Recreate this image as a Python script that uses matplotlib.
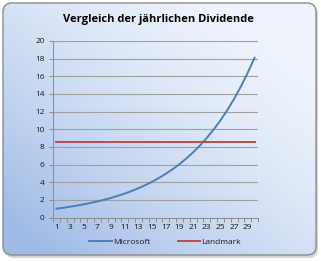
import numpy as np
import matplotlib.pyplot as plt
from matplotlib.patches import FancyBboxPatch
from matplotlib.lines import Line2D

title = 'Vergleich der jährlichen Dividende'
years = list(range(1, 31))
microsoft = [1.0, 1.1, 1.22, 1.35, 1.49, 1.65, 1.82, 2.01, 2.22, 2.46,
             2.72, 3.0, 3.32, 3.67, 4.05, 4.48, 4.95, 5.47, 6.04, 6.68,
             7.38, 8.15, 9.01, 9.96, 11.0, 12.16, 13.44, 14.85, 16.41, 18.1]
landmark = [8.5] * 30
yticks = list(range(0, 21, 2))
xlabels = list(range(1, 30, 2))

fig = plt.figure(figsize=(3.21, 2.61), dpi=100)
fig.patch.set_facecolor('white')

# background card with diagonal gradient
bg = fig.add_axes([0, 0, 1, 1])
bg.set_xlim(0, 321)
bg.set_ylim(261, 0)
bg.axis('off')
shadow = FancyBboxPatch((5, 5), 313, 253, boxstyle='round,pad=0,rounding_size=9',
                        fc='#b8b8b8', ec='none', alpha=0.6)
bg.add_patch(shadow)
card = FancyBboxPatch((3, 3), 313, 252, boxstyle='round,pad=0,rounding_size=9',
                      fc='none', ec='#8c8c8c', lw=1.0, zorder=3)
bg.add_patch(card)
gx, gy = np.meshgrid(np.linspace(0, 1, 200), np.linspace(0, 1, 200))
t = np.clip(0.6 * (1 - gx) + 0.6 * gy - 0.12, 0, 1) ** 1.5
c0 = np.array([0.94, 0.96, 0.99])
c1 = np.array([0.62, 0.73, 0.90])
img = c0[None, None, :] * (1 - t[..., None]) + c1[None, None, :] * t[..., None]
im = bg.imshow(img, extent=(3, 316, 255, 3), origin='upper', zorder=2, aspect='auto')
im.set_clip_path(card)

fig.text(158 / 321, 1 - 19.5 / 261, title, ha='center', va='center', fontsize=8,
         fontweight='bold', family='Open Sans', color='#000000')

ax = fig.add_axes([53 / 321, 1 - 217.5 / 261, 205 / 321, 176.5 / 261])
ax.patch.set_alpha(0)
ax.plot(years, microsoft, color='#4a7ebb', lw=1.4)
ax.plot(years, landmark, color='#be4b48', lw=1.4)
ax.set_xlim(0.5, 30.5)
ax.set_ylim(0, 20)
ax.set_yticks(yticks)
ax.yaxis.grid(True, color='#a0a0a0', lw=0.8)
ax.set_axisbelow(True)
ax.set_xticks(np.arange(0.5, 31, 1))
ax.set_xticklabels([])
ax.set_xticks(xlabels, minor=True)
ax.set_xticklabels([str(v) for v in xlabels], minor=True)
ax.tick_params(axis='x', which='major', length=3, color='#8c8c8c', width=0.7)
ax.tick_params(axis='x', which='minor', length=0, pad=5)
ax.tick_params(axis='y', length=3, color='#8c8c8c', width=0.7, pad=3)
for lab in ax.get_xticklabels(minor=True) + ax.get_yticklabels():
    lab.set_fontsize(6)
    lab.set_family('Open Sans')
    lab.set_color('#1a1a1a')
for s in ['top', 'right']:
    ax.spines[s].set_visible(False)
for s in ['left', 'bottom']:
    ax.spines[s].set_color('#8c8c8c')
    ax.spines[s].set_linewidth(0.7)

handles = [Line2D([], [], color='#4a7ebb', lw=1.4),
           Line2D([], [], color='#be4b48', lw=1.4)]
leg = fig.legend(handles, ['Microsoft', 'Landmark'], loc='center',
                 bbox_to_anchor=(165 / 321, 1 - 242 / 261), ncol=2, frameon=False,
                 prop={'family': 'Open Sans', 'size': 6}, handlelength=2.7,
                 handletextpad=0.1, columnspacing=3.3, borderpad=0)
for txt in leg.get_texts():
    txt.set_color('#1a1a1a')

fig.savefig('out.png', dpi=100)
